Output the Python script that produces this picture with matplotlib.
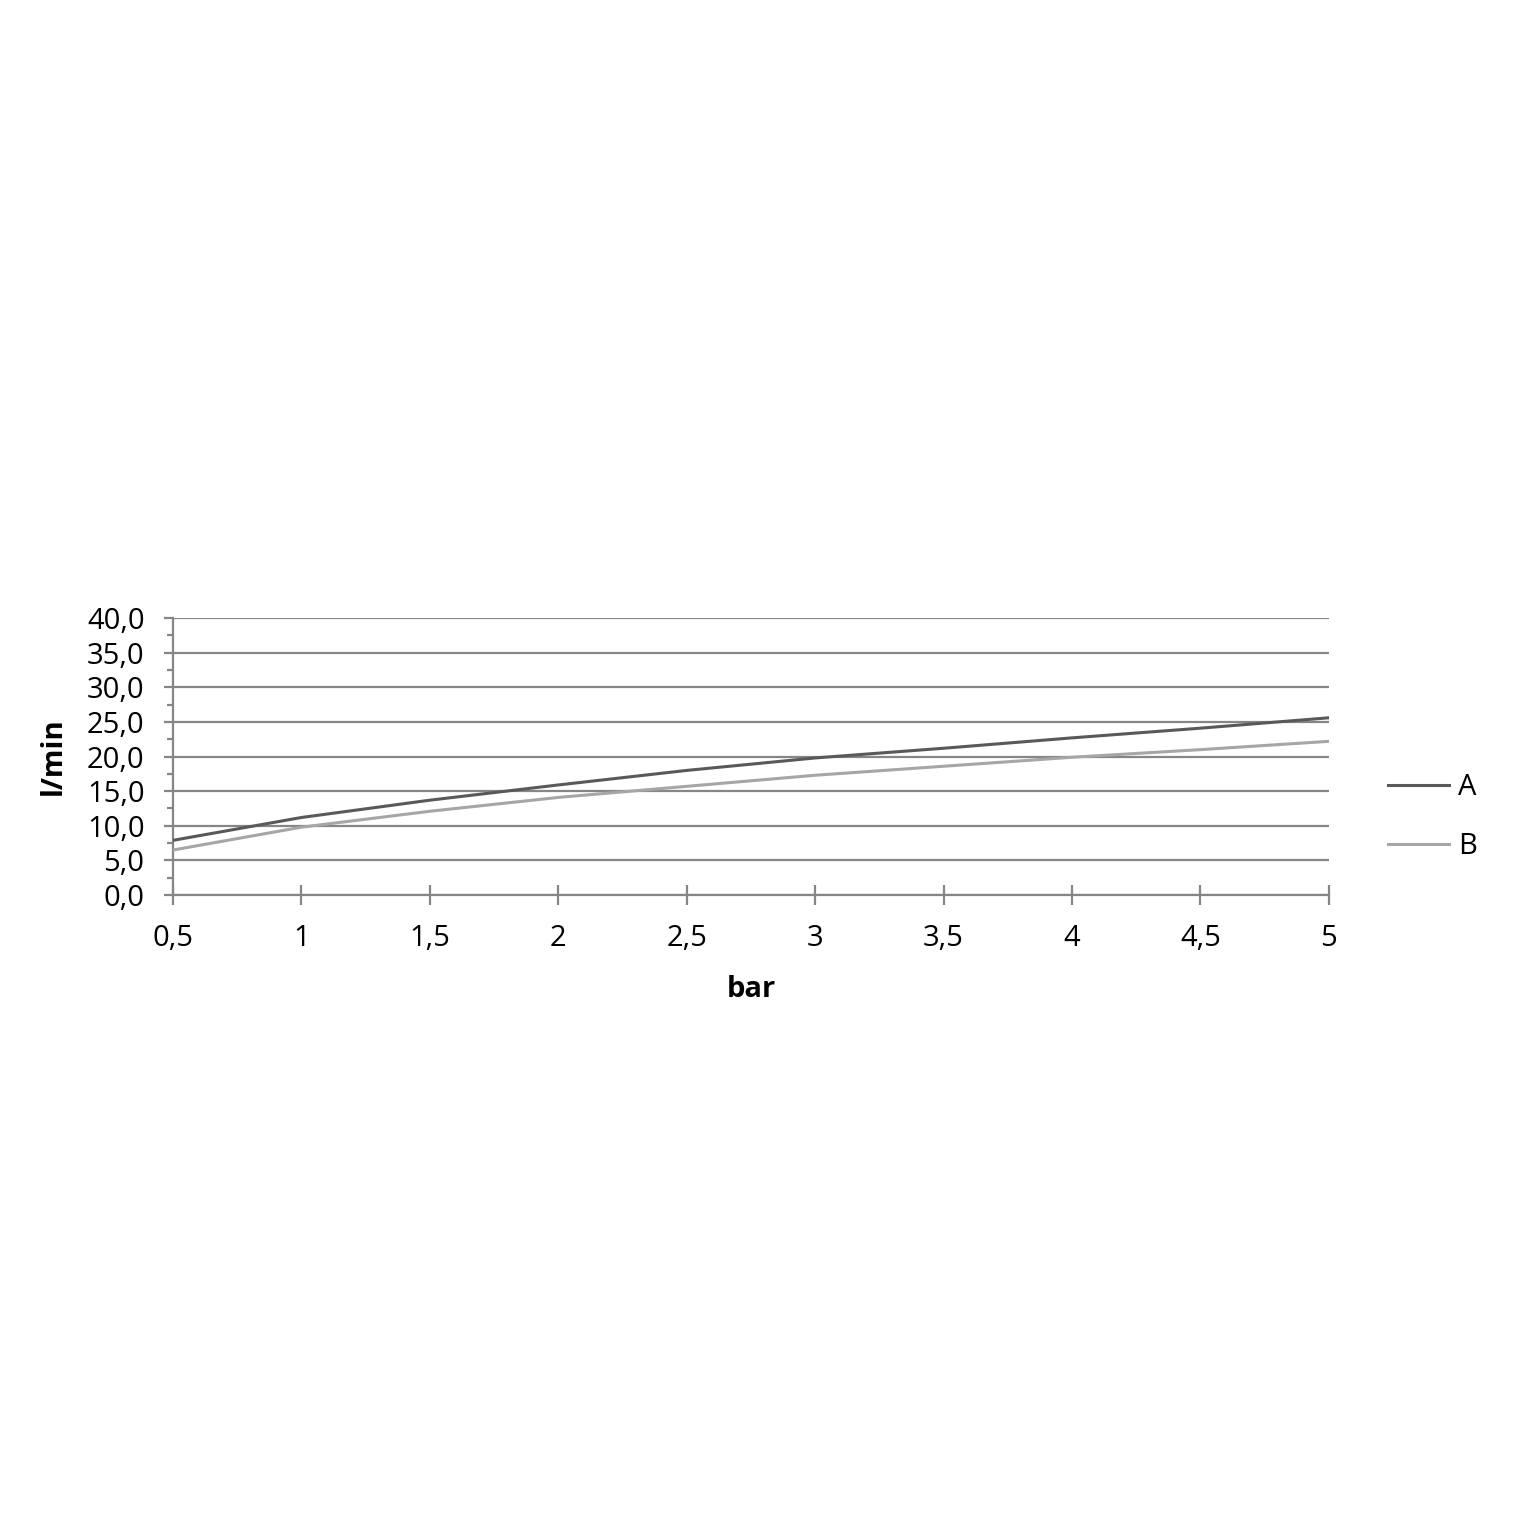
import matplotlib.pyplot as plt
from matplotlib.ticker import MultipleLocator, FuncFormatter

# data
pressure_bar = [0.5, 1, 1.5, 2, 2.5, 3, 3.5, 4, 4.5, 5]
flow_a = [7.9, 11.2, 13.7, 15.9, 18.0, 19.8, 21.2, 22.7, 24.1, 25.6]
flow_b = [6.5, 9.8, 12.1, 14.1, 15.7, 17.3, 18.6, 19.9, 21.0, 22.2]
series_names = ['A', 'B']

plt.rcParams['font.family'] = ['Open Sans', 'DejaVu Sans']

fig = plt.figure(figsize=(15.16, 15.16), dpi=100)
ax = fig.add_axes([0.1141, 0.4096, 0.7625, 0.1827])

grid_col = '#868686'
ax.plot(pressure_bar, flow_a, color='#595959', lw=2.2, label=series_names[0], zorder=3)
ax.plot(pressure_bar, flow_b, color='#a6a6a6', lw=2.2, label=series_names[1], zorder=3)

ax.set_xlim(0.5, 5)
ax.set_ylim(0, 40)
ax.xaxis.set_major_locator(MultipleLocator(0.5))
ax.yaxis.set_major_locator(MultipleLocator(5))
ax.yaxis.set_minor_locator(MultipleLocator(2.5))

ax.xaxis.set_major_formatter(FuncFormatter(lambda v, p: ('%g' % v).replace('.', ',')))
ax.yaxis.set_major_formatter(FuncFormatter(lambda v, p: ('%.1f' % v).replace('.', ',')))

ax.grid(axis='y', which='major', color=grid_col, lw=1.6, zorder=1)
for s in ['top', 'right']:
    ax.spines[s].set_visible(False)
for s in ['left', 'bottom']:
    ax.spines[s].set_color(grid_col)
    ax.spines[s].set_linewidth(1.6)

ax.tick_params(axis='x', which='major', direction='inout', length=14, width=1.6,
               color=grid_col, labelsize=21, pad=14)
ax.tick_params(axis='y', which='major', direction='out', length=6.5, width=1.6,
               color=grid_col, labelsize=21, pad=14)
ax.tick_params(axis='y', which='minor', direction='out', length=4, width=1.6,
               color=grid_col)

ax.set_xlabel('bar', fontsize=21, fontweight='bold', labelpad=16)
ax.set_ylabel('l/min', fontsize=21, fontweight='bold', labelpad=14)

fig.legend(loc='center left', bbox_to_anchor=(0.9156, 0.4610), frameon=False,
           fontsize=21, handlelength=2.1, handletextpad=0.3, labelspacing=1.05,
           borderpad=0, borderaxespad=0)

plt.savefig('out.png', dpi=100)
plt.close()
